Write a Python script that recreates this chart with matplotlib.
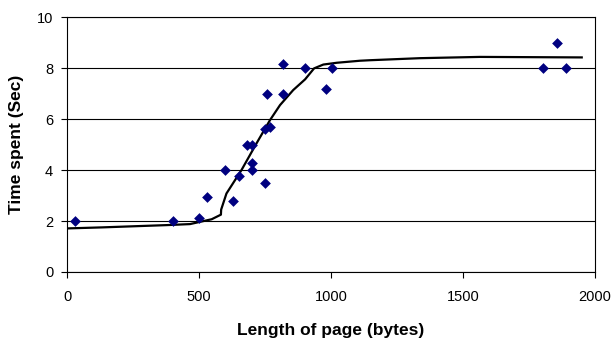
import matplotlib
matplotlib.use("Agg")
import matplotlib.pyplot as plt

plt.rcParams['font.family'] = ['Liberation Sans', 'DejaVu Sans']

# Measured points
page_len = [30, 403, 499, 529, 600, 630, 651, 680, 702, 702, 702, 749, 749, 769,
            759, 820, 820, 902, 981, 1003, 1802, 1858, 1889]
time_spent = [2.0, 2.0, 2.1, 2.95, 4.0, 2.8, 3.78, 4.97, 4.97, 4.29, 4.0, 3.48, 5.6, 5.67,
              6.97, 8.18, 6.97, 7.99, 7.2, 8.0, 8.0, 8.97, 8.0]

# Fitted curve
curve_x = [0, 131, 378, 466, 548, 583, 584, 604, 661, 718, 769, 807, 857, 902,
           936, 971, 1022, 1110, 1148, 1337, 1564, 1950]
curve_y = [1.71, 1.75, 1.84, 1.88, 2.07, 2.25, 2.45, 3.08, 4.0, 5.05, 5.96, 6.55, 7.14, 7.56,
           7.99, 8.14, 8.21, 8.29, 8.31, 8.39, 8.44, 8.42]

fig = plt.figure(figsize=(6.16, 3.43), dpi=100)
ax = fig.add_axes([0.1088, 0.207, 0.857, 0.743])

ax.set_axisbelow(True)
ax.yaxis.grid(True, color='black', linewidth=0.8)
ax.plot(curve_x, curve_y, color='black', linewidth=1.6, zorder=2)
ax.scatter(page_len, time_spent, marker='D', s=30, color='#000080', zorder=3, linewidths=0)

ax.set_xlim(0, 2000)
ax.set_ylim(0, 10)
ax.set_xticks([0, 500, 1000, 1500, 2000])
ax.set_yticks([0, 2, 4, 6, 8, 10])
ax.tick_params(direction='out', length=4, width=0.8, labelsize=10.5)
ax.tick_params(axis='x', pad=9)
ax.tick_params(axis='y', pad=6)
for s in ax.spines.values():
    s.set_color('black')
    s.set_linewidth(0.8)

ax.set_xlabel('Length of page (bytes)', fontsize=12.5, fontweight='bold')
ax.set_ylabel('Time spent (Sec)', fontsize=12.5, fontweight='bold')
ax.xaxis.set_label_coords(0.5, -0.2)
ax.yaxis.set_label_coords(-0.082, 0.5)

fig.savefig('out.png', dpi=100)
